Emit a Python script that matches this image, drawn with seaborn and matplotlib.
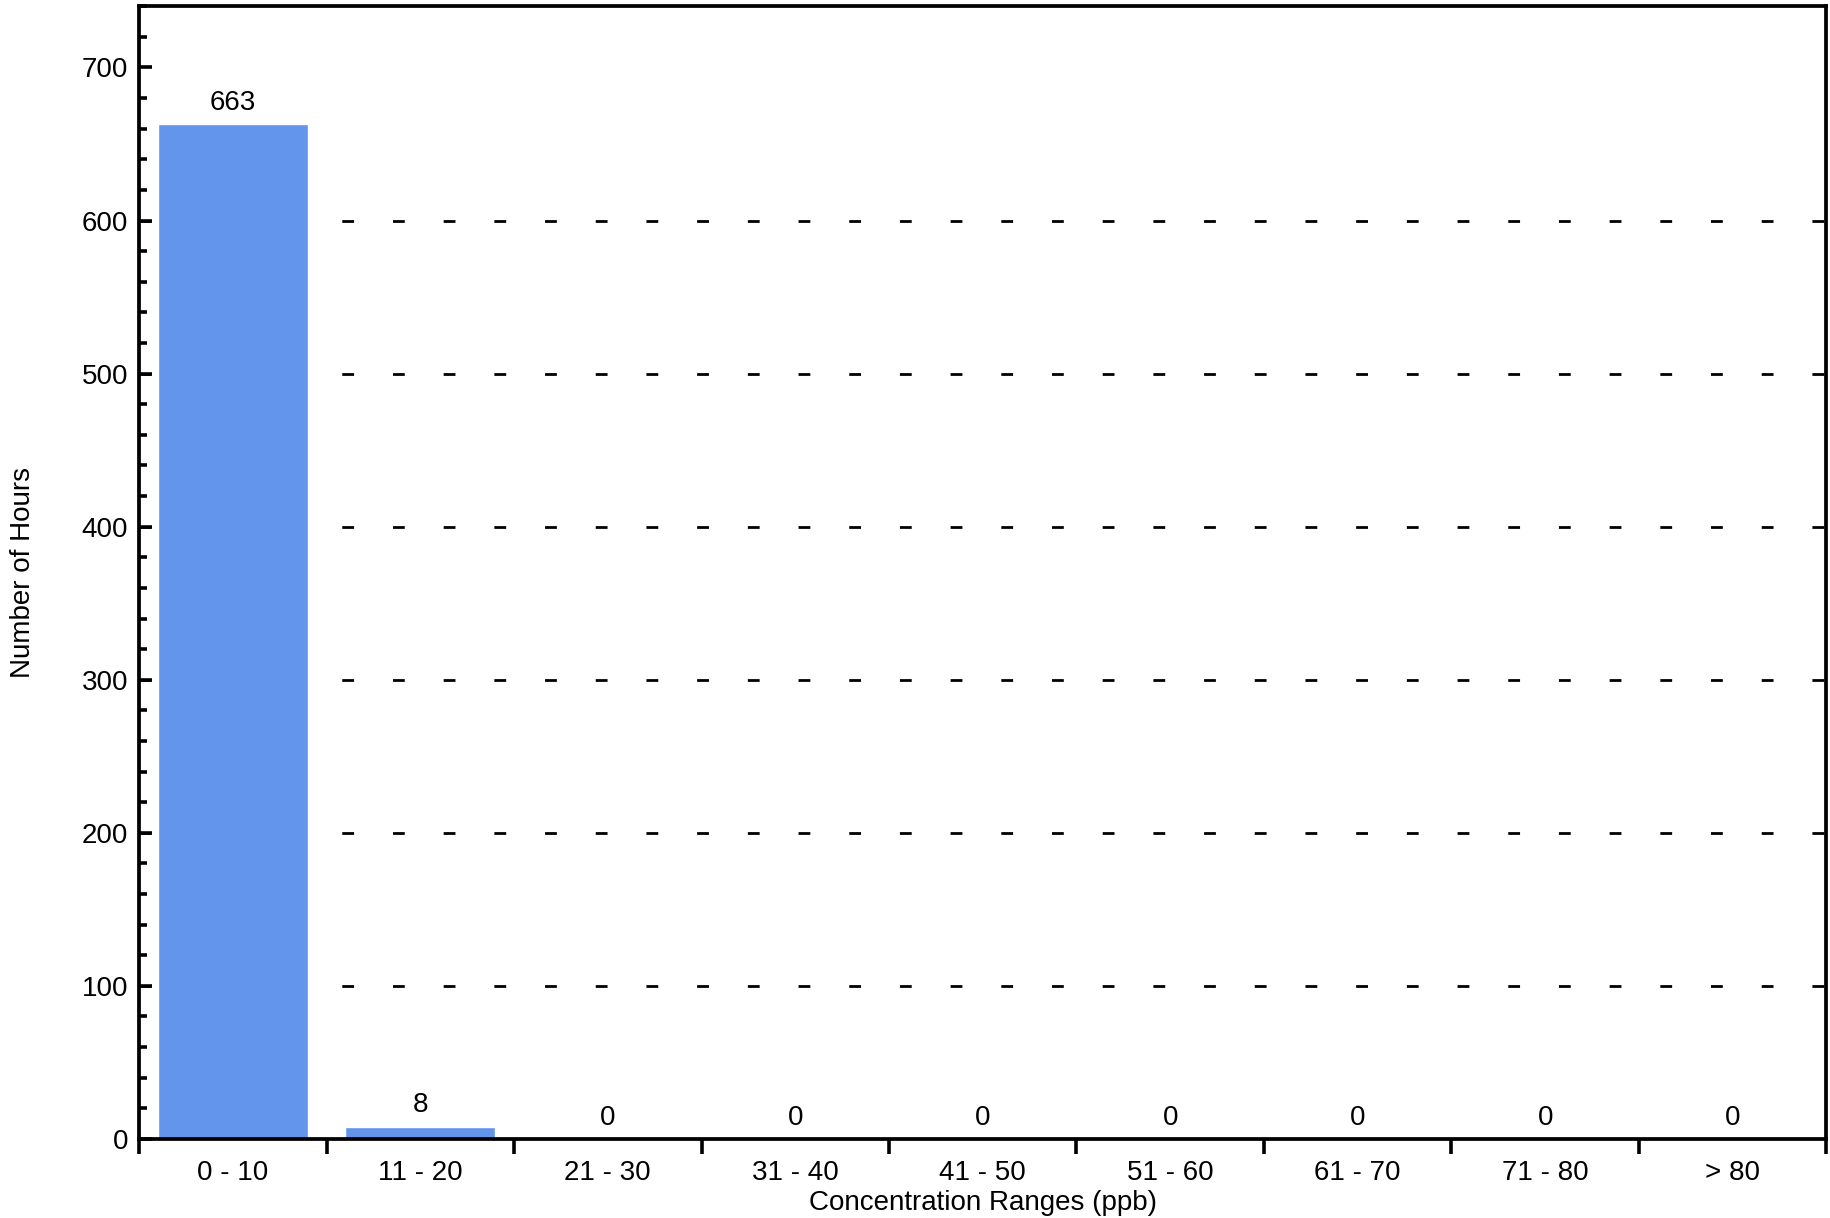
import pandas as pd
import matplotlib.pyplot as plt
import seaborn as sns
from matplotlib.ticker import MultipleLocator

# Data
ranges = ["0 - 10", "11 - 20", "21 - 30", "31 - 40", "41 - 50",
          "51 - 60", "61 - 70", "71 - 80", "> 80"]
hours = [663, 8, 0, 0, 0, 0, 0, 0, 0]
grid_levels = [100, 200, 300, 400, 500, 600]

df = pd.DataFrame({"Range": ranges, "Hours": hours})

sns.set_style("ticks")
plt.rcParams["font.family"] = ["Liberation Sans", "DejaVu Sans"]
plt.rcParams["lines.scale_dashes"] = False
plt.rcParams["text.color"] = "black"
plt.rcParams["axes.labelcolor"] = "black"
plt.rcParams["xtick.color"] = "black"
plt.rcParams["ytick.color"] = "black"

fig = plt.figure(figsize=(18.3, 12.18), dpi=100)
ax = fig.add_axes([0.076, 0.0649, 0.922, 0.930])

# dashed reference lines behind the bars
ax.hlines(grid_levels, -0.5, 8.5, colors="black", linewidth=2.0,
          linestyles=(0, (8.5, 28)), zorder=0)

sns.barplot(data=df, x="Range", y="Hours", color="#6495ED",
            saturation=1, width=0.8, ax=ax, zorder=2)

ax.bar_label(ax.containers[0], padding=6, fontsize=20, color="black")

ax.set_xlim(-0.5, 8.5)
ax.set_ylim(0, 740)

# y axis ticks (inward, with minors)
ax.yaxis.set_major_locator(MultipleLocator(100))
ax.yaxis.set_minor_locator(MultipleLocator(20))
ax.tick_params(axis="y", which="major", direction="in", length=9.5,
               width=2.6, labelsize=20, pad=8, colors="black")
ax.tick_params(axis="y", which="minor", direction="in", length=6,
               width=2.6, colors="black")

# x axis ticks at category boundaries, labels at centres
ax.set_xticks([i - 0.5 for i in range(len(ranges) + 1)])
ax.set_xticklabels([])
ax.set_xticks(range(len(ranges)), minor=True)
ax.set_xticklabels(ranges, minor=True, fontsize=20, color="black")
ax.tick_params(axis="x", which="major", direction="out", length=11,
               width=2.6, colors="black")
ax.tick_params(axis="x", which="minor", length=0, pad=15)

for side in ["left", "right", "top", "bottom"]:
    ax.spines[side].set_visible(True)
    ax.spines[side].set_linewidth(2.7)
    ax.spines[side].set_color("black")

ax.set_xlabel("Concentration Ranges (ppb)", fontsize=20)
ax.set_ylabel("Number of Hours", fontsize=20)
ax.xaxis.set_label_coords(0.5, -0.045)
ax.yaxis.set_label_coords(-0.061, 0.5)

plt.savefig("out.png", dpi=100)
